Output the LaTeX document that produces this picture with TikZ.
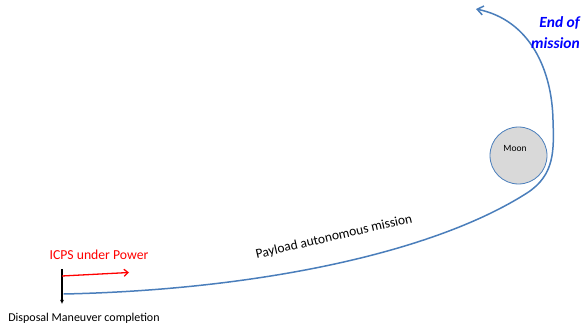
\documentclass[tikz,border=0pt]{standalone}
\usepackage{fontspec}
\setmainfont{Carlito}
\usetikzlibrary{arrows.meta}
\definecolor{orbit}{HTML}{4A7EBB}
\definecolor{moonfill}{HTML}{D9D9D9}
\tikzset{
  orbitline/.style={draw=orbit, line width=1.5pt, line cap=round},
  lbl/.style={inner sep=0pt},
}
\begin{document}
\begin{tikzpicture}[x=1pt,y=-1pt]
\useasboundingbox (0,0) rectangle (582,326);
% moon
\node[circle, draw=orbit, line width=0.8pt, fill=moonfill, minimum size=57pt, inner sep=0pt] (moon) at (518.5,155.5) {};
\node[lbl, font=\fontsize{9.5}{10}\selectfont] (moonlbl) at (515,148) {Moon};
% trajectory
\coordinate (start) at (64,294);
\coordinate (m1) at (527,193);
\coordinate (m2) at (553,120);
\coordinate (tip) at (476,9);
\draw[orbitline, -{Straight Barb[length=6pt,width=9pt]}]
  (start) .. controls (250,290) and (430,255) .. (m1)
          .. controls (555,175) and (554,150) .. (m2)
          .. controls (552,70) and (530,20) .. (tip);
% disposal line
\coordinate (dtop) at (62,269);
\coordinate (dbot) at (62,304);
\draw[line width=1.3pt, -{Latex[length=4pt,width=4pt]}] (dtop) -- (dbot);
% red arrow
\coordinate (rs) at (62,276);
\coordinate (re) at (129,272.5);
\draw[red, line width=1.3pt, -{Straight Barb[length=4pt,width=7pt]}] (rs) -- (re);
% labels
\node[lbl, text=red, font=\fontsize{13.7}{15}\selectfont] (icps) at (99,255) {ICPS under Power};
\node[lbl, font=\fontsize{12}{14}\selectfont] (disp) at (84,318) {Disposal Maneuver completion};
\node[lbl, font=\fontsize{13.5}{15}\selectfont, rotate=13] (payload) at (334,237) {Payload autonomous mission};
\node[lbl, text=blue, font=\fontsize{15.5}{21}\selectfont\bfseries\itshape, align=right, anchor=north east] (eom) at (580,16) {End of\\mission};
\end{tikzpicture}
\end{document}
